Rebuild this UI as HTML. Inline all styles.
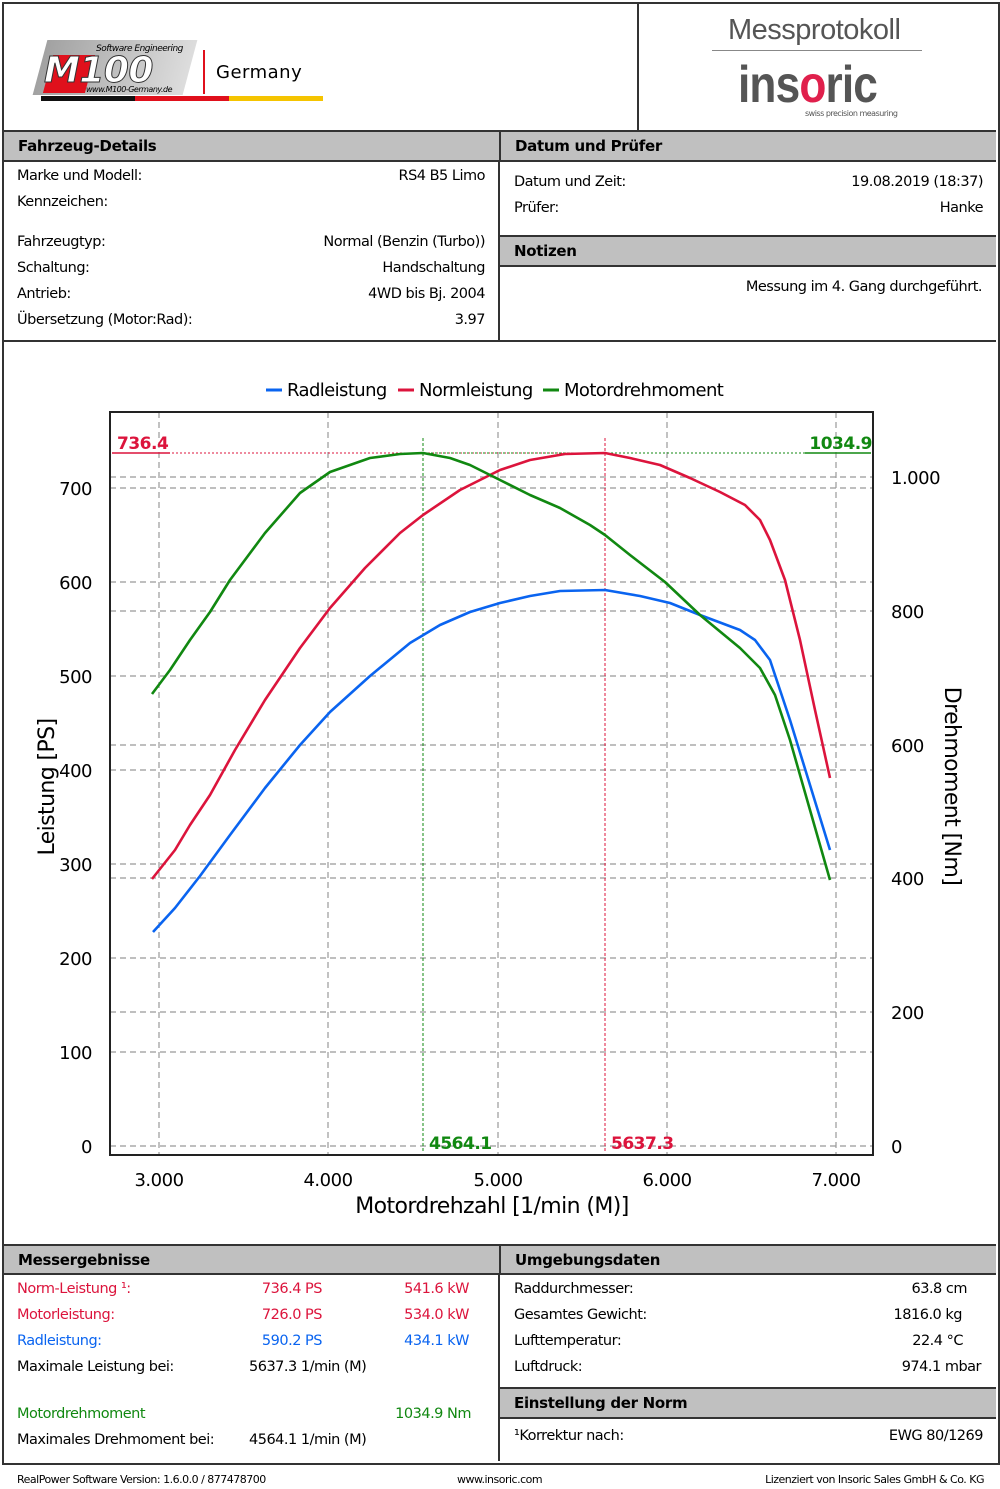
<!DOCTYPE html>
<html><head><meta charset="utf-8"><style>
body{margin:0;width:1000px;height:1489px;background:#fff;font-family:"DejaVu Sans","Liberation Sans",sans-serif;position:relative;overflow:hidden;color:#000}
.a{position:absolute}
.t{position:absolute;font-size:14.5px;white-space:nowrap;letter-spacing:-0.5px}
.hd{position:absolute;background:#c0c0c0;font-weight:bold;font-size:15px;padding-left:14px;box-sizing:border-box;line-height:28px;border-top:2px solid #333;border-bottom:2px solid #333;letter-spacing:-0.3px}
</style></head><body>
<div class="a" style="left:2px;top:2px;width:994px;height:1459px;border:2px solid #333"></div>
<div class="a" style="left:637px;top:2px;width:2px;height:130px;background:#333"></div>
<div class="a" style="left:40px;top:40px;width:150px;height:55px;background:linear-gradient(90deg,#444,#bbb);transform:skewX(-15deg);opacity:.5"></div>
<div class="a" style="left:48px;top:55px;width:42px;height:38px;background:#e0101c;transform:skewX(-15deg)"></div>
<div class="t" style="left:44px;top:50px;font-size:36px;font-style:italic;font-weight:bold;color:#fff;-webkit-text-stroke:1px #333">M100</div>
<div class="t" style="left:96px;top:44px;font-size:9px;font-style:italic">Software Engineering</div>
<div class="t" style="left:86px;top:85px;font-size:8px;font-style:italic">www.M100-Germany.de</div>
<div class="a" style="left:203px;top:50px;width:2px;height:44px;background:#e0101c"></div>
<div class="t" style="left:216px;top:62px;font-size:18px;letter-spacing:0.5px">Germany</div>
<div class="a" style="left:41px;top:96px;width:94px;height:5px;background:#111"></div>
<div class="a" style="left:135px;top:96px;width:94px;height:5px;background:#e0101c"></div>
<div class="a" style="left:229px;top:96px;width:94px;height:5px;background:#f5c400"></div>
<div class="t" style="left:728px;top:14px;font-size:29px;color:#555;font-family:'Liberation Sans',sans-serif;letter-spacing:-0.5px">Messprotokoll</div>
<div class="a" style="left:712px;top:50px;width:210px;height:1px;background:#888"></div>
<div class="t" style="left:738px;top:55px;font-size:52px;color:#555;font-family:'Liberation Sans',sans-serif;font-weight:bold;letter-spacing:-1px;transform:scaleX(0.85);transform-origin:left">ins<span style="color:#e0204c">o</span>ric</div>
<div class="t" style="left:805px;top:109px;font-size:8px;color:#555">swiss precision measuring</div>
<div class="hd" style="left:4px;top:130px;width:495px;height:32px">Fahrzeug-Details</div>
<div class="hd" style="left:499px;top:130px;width:497px;height:32px;border-left:2px solid #333">Datum und Prüfer</div>
<div class="a" style="left:498px;top:160px;width:2px;height:182px;background:#333"></div>
<div class="t" style="left:17px;top:168px">Marke und Modell:</div><div class="t" style="right:515px;top:168px">RS4 B5 Limo</div>
<div class="t" style="left:17px;top:194px">Kennzeichen:</div>
<div class="t" style="left:17px;top:234px">Fahrzeugtyp:</div><div class="t" style="right:515px;top:234px">Normal (Benzin (Turbo))</div>
<div class="t" style="left:17px;top:260px">Schaltung:</div><div class="t" style="right:515px;top:260px">Handschaltung</div>
<div class="t" style="left:17px;top:286px">Antrieb:</div><div class="t" style="right:515px;top:286px">4WD bis Bj. 2004</div>
<div class="t" style="left:17px;top:312px">Übersetzung (Motor:Rad):</div><div class="t" style="right:515px;top:312px">3.97</div>
<div class="t" style="left:514px;top:174px">Datum und Zeit:</div><div class="t" style="right:17px;top:174px">19.08.2019 (18:37)</div>
<div class="t" style="left:514px;top:200px">Prüfer:</div><div class="t" style="right:17px;top:200px">Hanke</div>
<div class="hd" style="left:500px;top:235px;width:496px;height:32px">Notizen</div>
<div class="t" style="right:18px;top:279px">Messung im 4. Gang durchgeführt.</div>
<div class="a" style="left:4px;top:340px;width:992px;height:2px;background:#333"></div>
<svg class="a" style="left:0;top:342px" width="1000" height="903" viewBox="0 342 1000 903" font-family="DejaVu Sans,Liberation Sans,sans-serif">
<g stroke="#999" stroke-dasharray="6,4" stroke-width="1.2">
<line x1="110" x2="873" y1="488" y2="488"/><line x1="110" x2="873" y1="582" y2="582"/><line x1="110" x2="873" y1="676" y2="676"/><line x1="110" x2="873" y1="770" y2="770"/><line x1="110" x2="873" y1="864" y2="864"/><line x1="110" x2="873" y1="958" y2="958"/><line x1="110" x2="873" y1="1052" y2="1052"/><line x1="110" x2="873" y1="1146" y2="1146"/>
<line x1="110" x2="873" y1="477" y2="477"/><line x1="110" x2="873" y1="611" y2="611"/><line x1="110" x2="873" y1="745" y2="745"/><line x1="110" x2="873" y1="878" y2="878"/><line x1="110" x2="873" y1="1012" y2="1012"/>
<line x1="159" x2="159" y1="412" y2="1155"/><line x1="328" x2="328" y1="412" y2="1155"/><line x1="498" x2="498" y1="412" y2="1155"/><line x1="667" x2="667" y1="412" y2="1155"/><line x1="836" x2="836" y1="412" y2="1155"/>
</g>
<rect x="110" y="412" width="763" height="743" fill="none" stroke="#222" stroke-width="2"/>
<line x1="112" x2="605" y1="453" y2="453" stroke="#dc143c" stroke-dasharray="2,2"/>
<line x1="423" x2="871" y1="453" y2="453" stroke="#118811" stroke-dasharray="2,2"/>
<line x1="112" x2="170" y1="453" y2="453" stroke="#dc143c" stroke-width="1.5"/>
<line x1="805" x2="871" y1="453" y2="453" stroke="#118811" stroke-width="1.5"/>
<line x1="423" x2="423" y1="438" y2="1153" stroke="#118811" stroke-dasharray="3,2"/>
<line x1="605" x2="605" y1="438" y2="1153" stroke="#dc143c" stroke-dasharray="3,2"/>
<g fill="none" stroke-width="2.6" stroke-linejoin="round">
<polyline stroke="#0a64f0" points="153,932 175,908 200,876 230,835 265,788 300,745 330,712 370,676 410,643 440,625 470,612 500,603 530,596 560,591 605,590 640,596 670,603 700,615 740,630 755,640 770,660 790,720 810,785 830,850"/>
<polyline stroke="#dc143c" points="152,879 175,850 190,825 210,795 235,750 265,700 300,648 330,608 365,568 400,533 423,515 460,490 500,470 530,460 565,454 605,453 630,458 660,465 690,478 720,492 745,505 760,520 770,540 785,580 800,640 815,710 830,778"/>
<polyline stroke="#118811" points="152,694 170,670 190,640 210,612 230,580 265,533 300,493 330,472 370,458 400,454 423,453 450,458 470,465 500,480 530,495 560,508 590,525 605,535 630,555 665,582 700,615 740,648 760,668 775,695 790,740 810,810 830,880"/>
</g>
<g font-weight="bold" font-size="17" letter-spacing="-0.5">
<text x="117" y="449" fill="#dc143c">736.4</text>
<text x="872" y="449" fill="#118811" text-anchor="end">1034.9</text>
<text x="429" y="1149" fill="#118811">4564.1</text>
<text x="611" y="1149" fill="#dc143c">5637.3</text>
</g>
<g font-size="18" fill="#000" letter-spacing="-0.5">
<text x="92" y="495" text-anchor="end">700</text><text x="92" y="589" text-anchor="end">600</text><text x="92" y="683" text-anchor="end">500</text><text x="92" y="777" text-anchor="end">400</text><text x="92" y="871" text-anchor="end">300</text><text x="92" y="965" text-anchor="end">200</text><text x="92" y="1059" text-anchor="end">100</text><text x="92" y="1153" text-anchor="end">0</text>
<text x="891" y="484">1.000</text><text x="891" y="618">800</text><text x="891" y="752">600</text><text x="891" y="885">400</text><text x="891" y="1019">200</text><text x="891" y="1153">0</text>
<text x="159" y="1186" text-anchor="middle">3.000</text><text x="328" y="1186" text-anchor="middle">4.000</text><text x="498" y="1186" text-anchor="middle">5.000</text><text x="667" y="1186" text-anchor="middle">6.000</text><text x="836" y="1186" text-anchor="middle">7.000</text>
</g>
<text x="492" y="1213" font-size="22" text-anchor="middle" letter-spacing="-0.6">Motordrehzahl [1/min (M)]</text>
<text transform="translate(54,787) rotate(-90)" font-size="22" text-anchor="middle" letter-spacing="-0.6">Leistung [PS]</text>
<text transform="translate(945,786) rotate(90)" font-size="22" text-anchor="middle" letter-spacing="-0.6">Drehmoment [Nm]</text>
<g font-size="18" letter-spacing="-0.6">
<line x1="266" x2="282" y1="390" y2="390" stroke="#0a64f0" stroke-width="3"/><text x="287" y="396">Radleistung</text>
<line x1="398" x2="414" y1="390" y2="390" stroke="#dc143c" stroke-width="3"/><text x="419" y="396">Normleistung</text>
<line x1="543" x2="559" y1="390" y2="390" stroke="#118811" stroke-width="3"/><text x="564" y="396">Motordrehmoment</text>
</g>
</svg>
<div class="hd" style="left:4px;top:1244px;width:495px;height:31px">Messergebnisse</div>
<div class="hd" style="left:499px;top:1244px;width:497px;height:31px;border-left:2px solid #333">Umgebungsdaten</div>
<div class="a" style="left:498px;top:1273px;width:2px;height:188px;background:#333"></div>
<div class="t" style="left:17px;top:1281px;color:#dc143c">Norm-Leistung ¹:</div><div class="t" style="right:678px;top:1281px;color:#dc143c">736.4 PS</div><div class="t" style="right:531px;top:1281px;color:#dc143c">541.6 kW</div>
<div class="t" style="left:17px;top:1307px;color:#dc143c">Motorleistung:</div><div class="t" style="right:678px;top:1307px;color:#dc143c">726.0 PS</div><div class="t" style="right:531px;top:1307px;color:#dc143c">534.0 kW</div>
<div class="t" style="left:17px;top:1333px;color:#0a64f0">Radleistung:</div><div class="t" style="right:678px;top:1333px;color:#0a64f0">590.2 PS</div><div class="t" style="right:531px;top:1333px;color:#0a64f0">434.1 kW</div>
<div class="t" style="left:17px;top:1359px">Maximale Leistung bei:</div><div class="t" style="left:249px;top:1359px">5637.3 1/min (M)</div>
<div class="t" style="left:17px;top:1406px;color:#118811">Motordrehmoment</div><div class="t" style="right:529px;top:1406px;color:#118811">1034.9 Nm</div>
<div class="t" style="left:17px;top:1432px">Maximales Drehmoment bei:</div><div class="t" style="left:249px;top:1432px">4564.1 1/min (M)</div>
<div class="t" style="left:514px;top:1281px">Raddurchmesser:</div><div class="t" style="right:33px;top:1281px">63.8 cm</div>
<div class="t" style="left:514px;top:1307px">Gesamtes Gewicht:</div><div class="t" style="right:38px;top:1307px">1816.0 kg</div>
<div class="t" style="left:514px;top:1333px">Lufttemperatur:</div><div class="t" style="right:37px;top:1333px">22.4 °C</div>
<div class="t" style="left:514px;top:1359px">Luftdruck:</div><div class="t" style="right:19px;top:1359px">974.1 mbar</div>
<div class="hd" style="left:500px;top:1387px;width:496px;height:32px">Einstellung der Norm</div>
<div class="t" style="left:514px;top:1428px">¹Korrektur nach:</div><div class="t" style="right:17px;top:1428px">EWG 80/1269</div>
<div class="t" style="left:17px;top:1473px;font-size:11px">RealPower Software Version: 1.6.0.0 / 877478700</div>
<div class="t" style="left:457px;top:1473px;font-size:11px">www.insoric.com</div>
<div class="t" style="right:16px;top:1473px;font-size:11px">Lizenziert von Insoric Sales GmbH &amp; Co. KG</div>
</body></html>
